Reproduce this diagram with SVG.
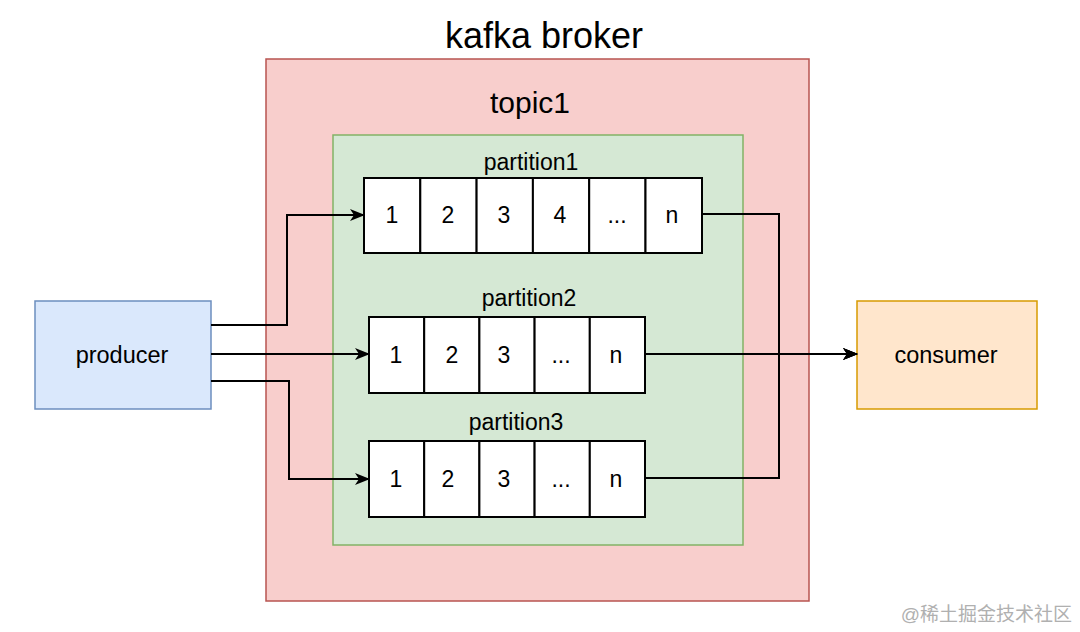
<svg xmlns="http://www.w3.org/2000/svg" width="1080" height="632" viewBox="0 0 1080 632">
<defs>
<style>
text{font-family:"Liberation Sans",Arial,sans-serif;fill:#000;text-anchor:middle}
.cell{fill:#fff;stroke:#000;stroke-width:2}
.ct{font-size:23px}
.pl{font-size:23px}
.edge{fill:none;stroke:#000;stroke-width:2}
</style>
<marker id="arr" markerWidth="15" markerHeight="12" refX="14" refY="6" orient="auto" markerUnits="userSpaceOnUse">
<path d="M0,0 L15,6 L0,12 L4,6 Z" fill="#000"/>
</marker>
</defs>
<rect width="1080" height="632" fill="#fff"/>
<g id="broker">
<rect x="266" y="59" width="543" height="542" fill="#f8cecc" stroke="#b85450" stroke-width="1.5"/>
<text x="544" y="48" style="font-size:36px">kafka broker</text>
</g>
<g id="topic1">
<rect x="333" y="135" width="410" height="410" fill="#d5e8d4" stroke="#82b366" stroke-width="1.5"/>
<text x="530" y="113" style="font-size:30px">topic1</text>
</g>
<g id="partition1">
<text class="pl" x="531" y="170">partition1</text>
<rect class="cell" x="364" y="178" width="56.3" height="75"/>
<rect class="cell" x="420.3" y="178" width="56.3" height="75"/>
<rect class="cell" x="476.6" y="178" width="56.3" height="75"/>
<rect class="cell" x="532.9" y="178" width="56.3" height="75"/>
<rect class="cell" x="589.2" y="178" width="56.3" height="75"/>
<rect class="cell" x="645.5" y="178" width="56.5" height="75"/>
<text class="ct" x="392" y="223">1</text>
<text class="ct" x="448" y="223">2</text>
<text class="ct" x="504" y="223">3</text>
<text class="ct" x="560" y="223">4</text>
<text class="ct" x="617" y="223">...</text>
<text class="ct" x="672" y="223">n</text>
</g>
<g id="partition2">
<text class="pl" x="529" y="306">partition2</text>
<rect class="cell" x="369" y="317" width="55.2" height="76"/>
<rect class="cell" x="424.2" y="317" width="55.2" height="76"/>
<rect class="cell" x="479.4" y="317" width="55.2" height="76"/>
<rect class="cell" x="534.6" y="317" width="55.2" height="76"/>
<rect class="cell" x="589.8" y="317" width="55.2" height="76"/>
<text class="ct" x="396" y="363">1</text>
<text class="ct" x="452" y="363">2</text>
<text class="ct" x="504" y="363">3</text>
<text class="ct" x="561" y="363">...</text>
<text class="ct" x="616" y="363">n</text>
</g>
<g id="partition3">
<text class="pl" x="516" y="430">partition3</text>
<rect class="cell" x="369" y="441" width="55.2" height="76"/>
<rect class="cell" x="424.2" y="441" width="55.2" height="76"/>
<rect class="cell" x="479.4" y="441" width="55.2" height="76"/>
<rect class="cell" x="534.6" y="441" width="55.2" height="76"/>
<rect class="cell" x="589.8" y="441" width="55.2" height="76"/>
<text class="ct" x="396" y="487">1</text>
<text class="ct" x="448" y="487">2</text>
<text class="ct" x="504" y="487">3</text>
<text class="ct" x="561" y="487">...</text>
<text class="ct" x="616" y="487">n</text>
</g>
<g id="producer">
<rect x="35" y="301" width="176" height="108" fill="#dae8fc" stroke="#6c8ebf" stroke-width="1.5"/>
<text x="122" y="363" style="font-size:23.5px">producer</text>
</g>
<g id="consumer">
<rect x="857" y="301" width="180" height="108" fill="#ffe6cc" stroke="#d79b00" stroke-width="1.5"/>
<text x="946" y="363" style="font-size:23.5px">consumer</text>
</g>
<g id="connectors">
<path class="edge" d="M211,325 H287 V215 H364" marker-end="url(#arr)"/>
<path class="edge" d="M211,354 H369" marker-end="url(#arr)"/>
<path class="edge" d="M211,381 H289 V479 H369" marker-end="url(#arr)"/>
<path class="edge" d="M702,214 H779 V354 H857" marker-end="url(#arr)"/>
<path class="edge" d="M645,354 H857" marker-end="url(#arr)"/>
<path class="edge" d="M645,478 H779 V354 H857" marker-end="url(#arr)"/>
</g>
<text x="1072" y="621" style="font-size:19px;fill:#b0b0b0;text-anchor:end;font-family:'Liberation Sans','Noto Sans CJK SC',sans-serif">@稀土掘金技术社区</text>
</svg>
